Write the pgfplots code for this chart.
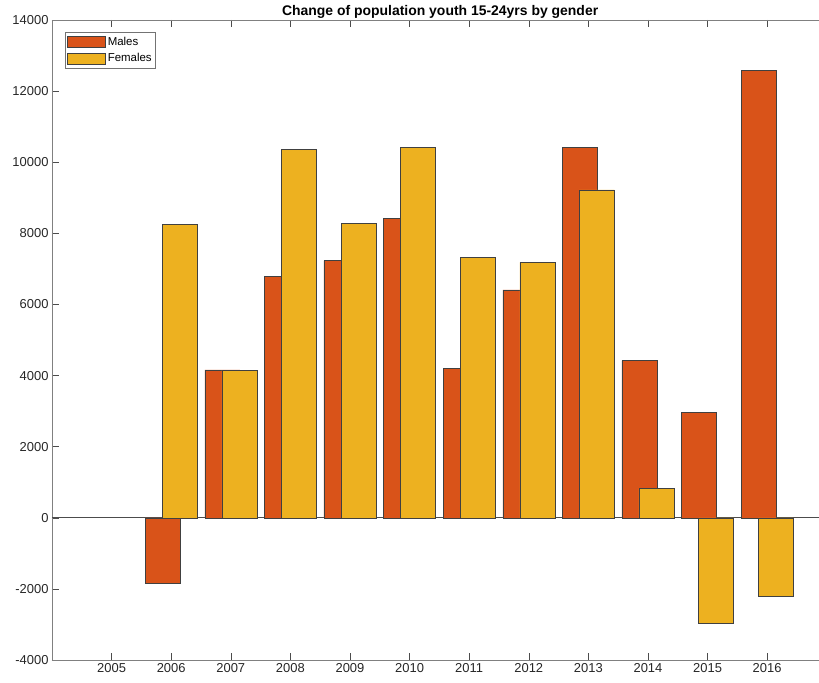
\documentclass[border=0pt]{standalone}
\usepackage{fontspec}
\setmainfont{Liberation Sans}
\usepackage{pgfplots}
\pgfplotsset{compat=1.18}
\definecolor{males}{HTML}{D95319}
\definecolor{females}{HTML}{EDB120}
\definecolor{axgray}{HTML}{262626}
\begin{document}
\begin{tikzpicture}
\begin{axis}[
  name=ax,
  scale only axis, width=767bp, height=640bp,
  xmin=2004, xmax=2016.87, ymin=-4000, ymax=14000,
  axis x line*=box, axis y line*=left,
  xtick={2005,2006,...,2016}, ytick={-4000,-2000,...,14000},
  tick align=inside, major tick length=7bp,
  tick style={black!70, line width=0.5bp},
  axis line style={black!50, line width=0.6bp},
  ticklabel style={font=\fontsize{13}{15}\selectfont, text=axgray},
  /pgf/number format/1000 sep={}, /pgf/number format/assume math mode=true,
  scaled y ticks=false,
  title={Change of population youth 15-24yrs by gender},
  title style={font=\bfseries\fontsize{14}{16}\selectfont, text=black, at={(0.506,1)}, anchor=base, yshift=-1bp},
  extra y ticks={0}, extra y tick labels={},
  extra y tick style={grid=major, major grid style={black!70, line width=0.6bp}, major tick length=0pt},
  legend image code/.code={\draw[#1] (0bp,-5.5bp) rectangle (38bp,5.5bp);},
  legend style={at={(0.017,0.981)}, anchor=north west, draw=black!55, line width=0.5bp,
    font=\fontsize{11.5}{13}\selectfont, inner xsep=2bp, inner ysep=2.5bp, row sep=3bp,
    cells={anchor=west}},
  legend cell align=left,
]
\addplot[ybar, bar width=0.587, bar shift=-0.143, fill=males, draw=black!75, line width=0.5bp] coordinates {
  (2006,-1830) (2007,4160) (2008,6790) (2009,7230) (2010,8420) (2011,4210)
  (2012,6410) (2013,10420) (2014,4420) (2015,2960) (2016,12590)};
\addplot[ybar, bar width=0.587, bar shift=0.143, fill=females, draw=black!75, line width=0.5bp] coordinates {
  (2006,8260) (2007,4150) (2008,10370) (2009,8290) (2010,10420) (2011,7330)
  (2012,7180) (2013,9220) (2014,830) (2015,-2960) (2016,-2200)};
\legend{Males,Females}
\end{axis}
\pgfresetboundingbox
\path[use as bounding box] ([xshift=-52bp,yshift=-23bp]ax.south west) rectangle ([yshift=20bp]ax.north east);
\end{tikzpicture}
\end{document}
